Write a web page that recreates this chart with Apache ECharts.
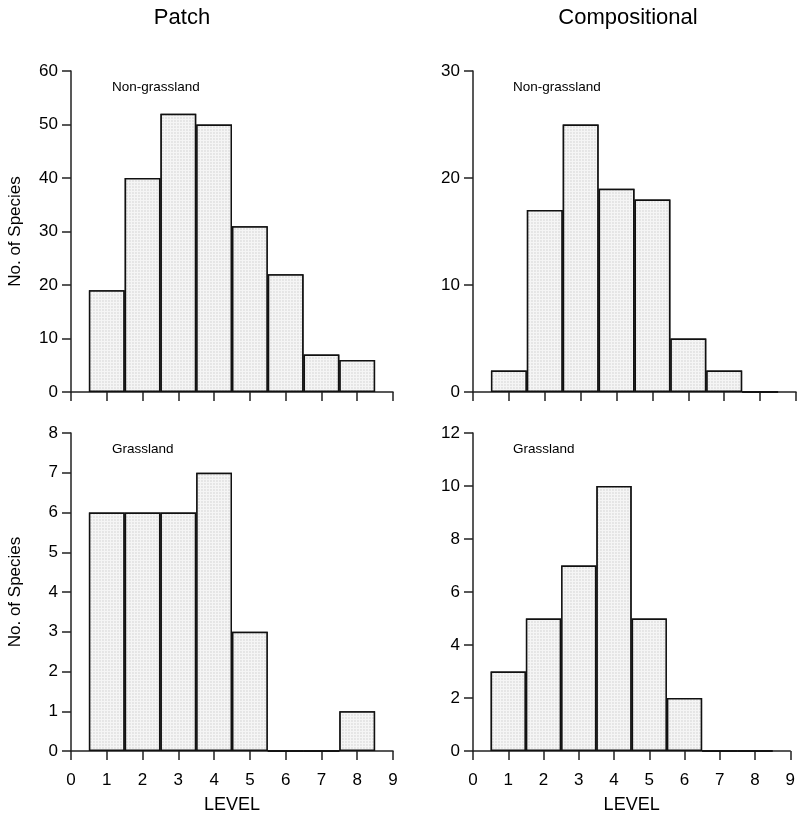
<!DOCTYPE html>
<html>
<head>
<meta charset="utf-8">
<script src="https://cdn.jsdelivr.net/npm/echarts@6/dist/echarts.min.js"></script>
<style>
  html, body { margin: 0; padding: 0; background: #fff; }
  #chart { width: 798px; height: 815px; }
</style>
</head>
<body>
<div id="chart"></div>
<script>
// ---- data ----
const levels = [1, 2, 3, 4, 5, 6, 7, 8];
const patchNonGrassland = [19, 40, 52, 50, 31, 22, 7, 6];
const compNonGrassland = [2, 17, 25, 19, 18, 5, 2, 0];
const patchGrassland = [6, 6, 6, 7, 3, 0, 0, 1];
const compGrassland = [3, 5, 7, 10, 5, 2, 0, 0];
const columnTitles = ['Patch', 'Compositional'];
const panelLabels = ['Non-grassland', 'Non-grassland', 'Grassland', 'Grassland'];
const yMax = [60, 30, 8, 12];
const yStep = [10, 10, 1, 2];
const xMin = 0, xMax = 9, xStep = 1;

const FONT = 'Liberation Sans, Arial, sans-serif';
const chart = echarts.init(document.getElementById('chart'), null, { renderer: 'canvas' });

const grids = [
  { left: 71, top: 71, width: 322, height: 321 },
  { left: 473, top: 71, width: 323, height: 321 },
  { left: 71, top: 433, width: 322, height: 321 },
  { left: 473, top: 433, width: 323, height: 321 }
];
const panelData = [patchNonGrassland, compNonGrassland, patchGrassland, compGrassland];

const stipple = {
  symbol: 'rect',
  symbolSize: 0.6,
  color: 'rgba(120,120,120,0.4)',
  backgroundColor: '#f5f5f5',
  dashArrayX: [2, 1],
  dashArrayY: [2, 1],
  rotation: 0
};

const xAxes = grids.map((g, i) => ({
  type: 'value', gridIndex: i, min: xMin, max: xMax, interval: xStep,
  axisLine: { show: true, onZero: false, lineStyle: { color: '#222', width: 1.5 } },
  axisTick: { show: true, length: 9, lineStyle: { color: '#222', width: 1.5 } },
  axisLabel: { show: i >= 2, fontSize: 17, color: '#000', fontFamily: FONT, margin: 21 },
  splitLine: { show: false },
  name: i >= 2 ? 'LEVEL' : '',
  nameLocation: 'middle', nameGap: 45,
  nameTextStyle: { fontSize: 18, color: '#000', fontFamily: FONT }
}));

const yAxes = grids.map((g, i) => ({
  type: 'value', gridIndex: i, min: 0, max: yMax[i], interval: yStep[i],
  axisLine: { show: true, lineStyle: { color: '#222', width: 1.5 } },
  axisTick: { show: true, length: 9, lineStyle: { color: '#222', width: 1.5 } },
  axisLabel: { fontSize: 17, color: '#000', fontFamily: FONT, margin: 13 },
  splitLine: { show: false },
  name: (i % 2 === 0) ? 'No. of Species' : '',
  nameLocation: 'middle', nameGap: 47,
  nameTextStyle: { fontSize: 17, color: '#000', fontFamily: FONT }
}));

const series = panelData.map((vals, i) => ({
  type: 'bar', xAxisIndex: i, yAxisIndex: i,
  data: levels.map((lv, k) => [lv, vals[k]]),
  barWidth: '100%',
  itemStyle: { color: '#f5f5f5', borderColor: '#111', borderWidth: 1.5, decal: stipple },
  emphasis: { disabled: true },
  silent: true
}));

const titles = [
  { text: columnTitles[0], left: 182, top: 7, textAlign: 'center' },
  { text: columnTitles[1], left: 628, top: 7, textAlign: 'center' }
].map(t => Object.assign(t, { padding: 0, textStyle: { fontSize: 22, fontWeight: 'normal', color: '#000', fontFamily: FONT } }));

const labelPos = [[112, 80], [513, 80], [112, 442], [513, 442]];
panelLabels.forEach((txt, i) => {
  titles.push({ text: txt, left: labelPos[i][0], top: labelPos[i][1], padding: 0,
    textStyle: { fontSize: 13.5, fontWeight: 'normal', color: '#000', fontFamily: FONT } });
});

chart.setOption({
  animation: false,
  backgroundColor: '#fff',
  title: titles,
  grid: grids,
  xAxis: xAxes,
  yAxis: yAxes,
  series: series
});
</script>
</body>
</html>
